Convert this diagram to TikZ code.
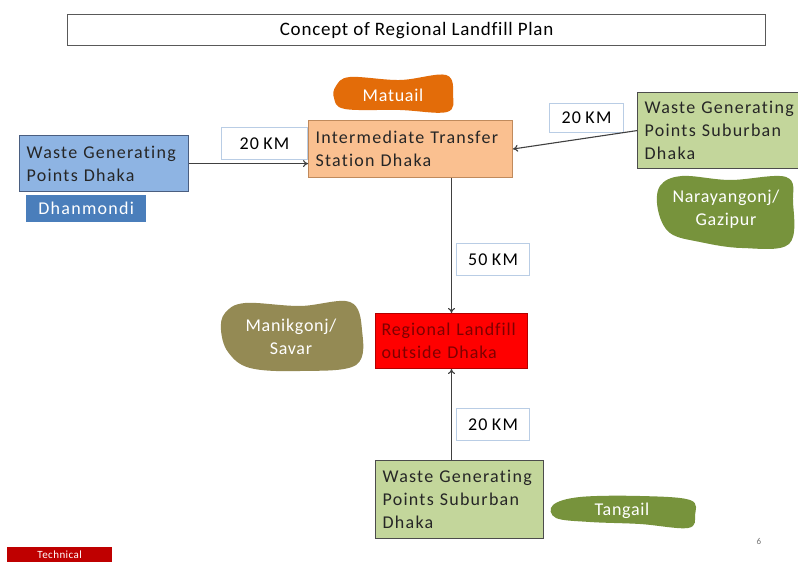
\documentclass[tikz,border=0pt]{standalone}
\usepackage{fontspec}
\setmainfont{Carlito}
\newfontfamily\boxfont{Carlito}[LetterSpace=7, WordSpace=0.8, Ligatures=NoCommon]
\newfontfamily\blobfont{Carlito}[LetterSpace=4, Ligatures=NoCommon]
\newfontfamily\tightfont{Carlito}[LetterSpace=5, WordSpace=0.6, Ligatures=NoCommon]
\usetikzlibrary{arrows.meta}
\definecolor{peach}{HTML}{FAC090}
\definecolor{peachline}{HTML}{C08A5C}
\definecolor{skyfill}{HTML}{8EB4E3}
\definecolor{skyline}{HTML}{4A5E80}
\definecolor{steel}{HTML}{4A7EBB}
\definecolor{leaf}{HTML}{C3D69B}
\definecolor{olive}{HTML}{77933C}
\definecolor{khaki}{HTML}{948A54}
\definecolor{pumpkin}{HTML}{E36C09}
\definecolor{tagline}{HTML}{B9CDE5}
\definecolor{darkred}{HTML}{7F0000}
\definecolor{wire}{HTML}{404040}
\tikzset{
  txt/.style={font=\boxfont\fontsize{18}{23}\selectfont},
  plainbox/.style={draw, rectangle, anchor=north west, inner xsep=7pt, inner ysep=2pt,
    align=left, txt},
  kmtag/.style={draw=tagline, fill=white, line width=1pt, rectangle, anchor=north west,
    inner sep=0pt, txt},
  blobtext/.style={text=white, font=\blobfont\fontsize{18}{23}\selectfont, align=center},
  link/.style={draw=wire, line width=1.1pt, -{To[length=5pt,width=7pt]}}
}
\begin{document}
\begin{tikzpicture}[x=1pt,y=-1pt]
\useasboundingbox (0,0) rectangle (798,564);
\fill[white] (0,0) rectangle (798,564);

% title
\node[draw=black!65, line width=1.3pt, rectangle, anchor=north west, minimum width=698pt,
  minimum height=31pt, inner sep=0pt, font=\blobfont\fontsize{19}{22}\selectfont] (title) at (67,14)
  {Concept of Regional Landfill Plan};

% irregular place-name patches
\fill[pumpkin] plot[smooth cycle, tension=0.6] coordinates
  {(336,86) (350,77) (400,80) (446,75) (453,95) (447,112) (400,110) (345,109) (334,98)};
\node[blobtext] (matuail) at (393,95) {Matuail};

\fill[olive] plot[smooth cycle, tension=0.6] coordinates
  {(660,186) (682,176) (730,180) (786,177) (793,202) (789,244) (742,248) (700,242) (670,233) (658,210)};
\node[blobtext] (narayangonj) at (726,209) {Narayangonj/\\Gazipur};

\fill[khaki] plot[smooth cycle, tension=0.6] coordinates
  {(225,313) (245,303) (300,306) (350,302) (362,330) (356,365) (300,371) (250,368) (228,352) (221,330)};
\node[blobtext] (manikgonj) at (291,337) {Manikgonj/\\Savar};

\fill[olive] plot[smooth cycle, tension=0.6] coordinates
  {(553,505) (580,497) (640,496) (690,500) (695,515) (688,528) (640,524) (590,522) (556,518)};
\node[blobtext] (tangail) at (622,511) {Tangail};

% boxes
\node[plainbox, draw=peachline, fill=peach, line width=1pt, minimum width=204pt,
  minimum height=57pt, text width=190pt, text=black!85] (transfer) at (308,120)
  {Intermediate Transfer\\Station Dhaka};

\node[plainbox, draw=skyline, fill=skyfill, line width=1.2pt, minimum width=169pt,
  minimum height=56pt, text width=155pt, text=black!85] (dhaka) at (19,135)
  {Waste Generating\\Points Dhaka};

\node[rectangle, fill=steel, anchor=north west, minimum width=120pt, minimum height=27pt,
  inner sep=0pt, text=white, txt] (dhanmondi) at (26,195) {Dhanmondi};

\node[plainbox, draw=black!70, fill=leaf, line width=1.2pt, minimum width=162pt,
  minimum height=76pt, text width=148pt, text=black!85] (east) at (637,92)
  {Waste Generating\\Points Suburban\\Dhaka};

\node[plainbox, draw=red!70!black, fill=red, line width=1pt, minimum width=152pt,
  minimum height=55pt, text width=140pt, inner xsep=6pt, text=darkred,
  font=\tightfont\fontsize{18}{23}\selectfont] (landfill) at (375,313)
  {\mbox{Regional Landfill}\\\mbox{outside Dhaka}};

\node[plainbox, draw=black!70, fill=leaf, line width=1.2pt, minimum width=168pt,
  minimum height=78pt, text width=154pt, text=black!85] (south) at (375,460)
  {Waste Generating\\Points Suburban\\Dhaka};

% distance tags
\node[kmtag, minimum width=86pt, minimum height=32pt] (kmwest) at (221,127) {20 KM};
\node[kmtag, minimum width=74pt, minimum height=29pt] (kmeast) at (549,103) {20 KM};
\node[kmtag, minimum width=73pt, minimum height=32pt] (kmmid) at (456,243) {50 KM};
\node[kmtag, minimum width=73pt, minimum height=32pt] (kmsouth) at (456,408) {20 KM};

% connectors
\draw[link] (dhaka.east) -- (dhaka.east -| transfer.west);
\draw[link] (east.west) -- (transfer.east);
\draw[link] (landfill.north |- transfer.south) -- (landfill.north);
\draw[link] (landfill.south |- south.north) -- (landfill.south);

% footer
\node[text=black!55, font=\fontsize{9}{10}\selectfont] (pageno) at (759,541) {6};
\node[rectangle, fill=red!75!black, anchor=north west, minimum width=105pt, minimum height=15pt,
  inner sep=0pt, text=white, font=\blobfont\fontsize{11}{12}\selectfont] (footer) at (7,547) {Technical};
\end{tikzpicture}
\end{document}
